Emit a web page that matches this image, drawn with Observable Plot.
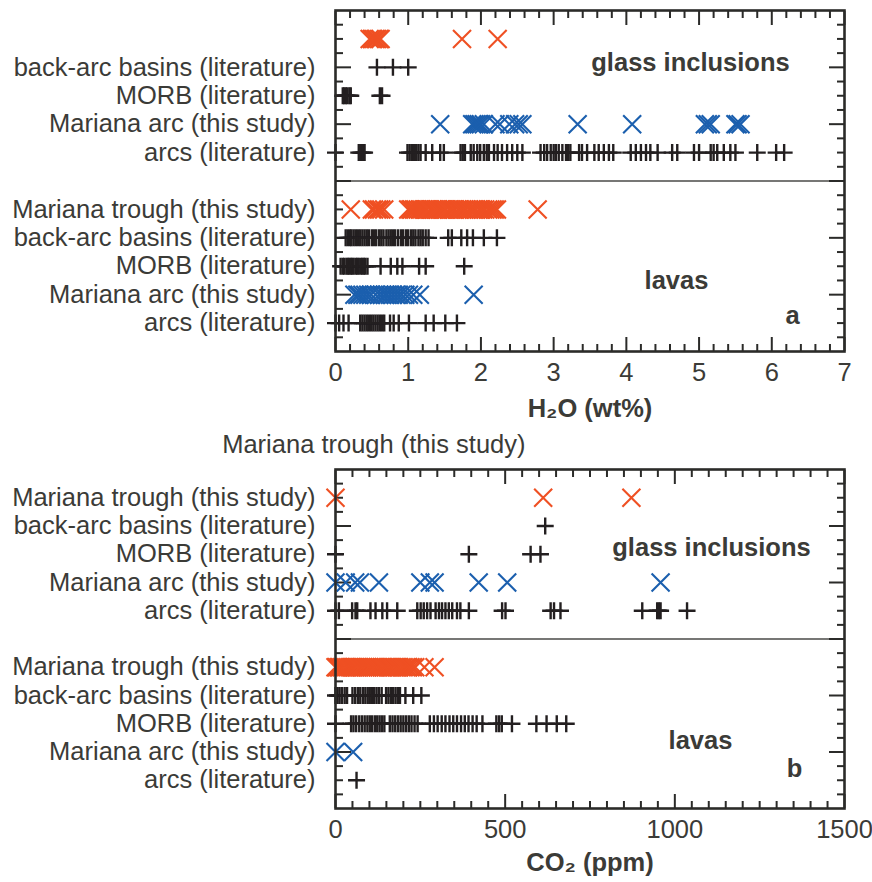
<!DOCTYPE html>
<html><head><meta charset="utf-8">
<script src="https://cdn.jsdelivr.net/npm/d3@7"></script>
<script src="https://cdn.jsdelivr.net/npm/@observablehq/plot@0.6"></script>
<style>
body{margin:0;background:#fff;}
#chart{width:872px;}
#chart svg{display:block;}
</style></head><body><div id="chart"></div>
<script>
// ---------- categories & tick labels ----------
const categories = ["Mariana trough (this study)", "back-arc basins (literature)", "MORB (literature)", "Mariana arc (this study)", "arcs (literature)"];
const groups = ["glass inclusions", "lavas"];
// in panel a the trough glass-inclusion row carries no label (it floats above panel b)
const rowLabelsA = ["", "back-arc basins (literature)", "MORB (literature)", "Mariana arc (this study)", "arcs (literature)",
  "Mariana trough (this study)", "back-arc basins (literature)", "MORB (literature)", "Mariana arc (this study)", "arcs (literature)"];
const rowLabelsB = [...categories, ...categories];
const floatingLabel = "Mariana trough (this study)";
const h2oTicks = [0, 1, 2, 3, 4, 5, 6, 7];
const co2Ticks = [0, 500, 1000, 1500];

// ---------- panel a: H2O (wt%) ----------
const h2oGlassTrough = [0.47, 0.5, 0.52, 0.55, 0.57, 0.6, 0.62, 1.74, 2.23];
const h2oGlassBackArc = [0.57, 0.79, 1.0];
const h2oGlassMorb = [0.1, 0.12, 0.14, 0.16, 0.19, 0.21, 0.61, 0.64];
const h2oGlassArc = [1.44, 1.88, 1.91, 1.94, 1.97, 2.0, 2.04, 2.2, 2.26, 2.39, 2.47, 2.52, 2.57, 3.33, 4.08, 5.08, 5.12, 5.16, 5.5, 5.53, 5.57];
const h2oGlassArcsLit = [0, 0.32, 0.35, 0.38, 0.4, 0.99, 1.02, 1.05, 1.08, 1.11, 1.14, 1.17, 1.24, 1.33, 1.44, 1.49, 1.72, 1.75, 1.78,
  1.86, 1.9, 1.95, 1.99, 2.04, 2.08, 2.11, 2.18, 2.23, 2.29, 2.36, 2.43, 2.5, 2.57, 2.82, 2.87, 2.91, 2.96, 3.0, 3.03, 3.07, 3.12,
  3.17, 3.2, 3.23, 3.35, 3.39, 3.46, 3.56, 3.62, 3.69, 3.76, 3.82, 4.06, 4.13, 4.2, 4.27, 4.33, 4.43, 4.63, 4.7, 4.93, 5.0, 5.16,
  5.2, 5.25, 5.34, 5.43, 5.5, 5.8, 6.06, 6.17];

const h2oLavaTrough = [0.21, 0.5, 0.53, 0.57, 0.6, 0.63, 0.67, 1.0, 1.03, 1.05, 1.08, 1.1, 1.13, 1.16, 1.18, 1.21, 1.24, 1.26, 1.3,
  1.33, 1.35, 1.38, 1.41, 1.44, 1.47, 1.5, 1.52, 1.56, 1.59, 1.62, 1.64, 1.68, 1.71, 1.74, 1.77, 1.8, 1.84, 1.87, 1.9, 1.93,
  1.97, 2.0, 2.03, 2.06, 2.1, 2.13, 2.16, 2.19, 2.22, 2.78];
const h2oLavaBackArc = [0.14, 0.17, 0.2, 0.22, 0.25, 0.28, 0.31, 0.34, 0.37, 0.4, 0.43, 0.46, 0.5, 0.53, 0.56, 0.6, 0.63, 0.66,
  0.7, 0.73, 0.76, 0.79, 0.82, 0.86, 0.9, 0.93, 0.97, 1.0, 1.04, 1.07, 1.1, 1.14, 1.17, 1.2, 1.24, 1.28, 1.55, 1.6, 1.73, 1.81,
  1.89, 2.04, 2.22];
const h2oLavaMorb = [0.07, 0.1, 0.12, 0.15, 0.17, 0.19, 0.21, 0.23, 0.25, 0.28, 0.3, 0.32, 0.35, 0.37, 0.39, 0.41, 0.44, 0.62,
  0.76, 0.85, 0.92, 1.15, 1.24, 1.77];
const h2oLavaArc = [0.26, 0.3, 0.33, 0.37, 0.41, 0.45, 0.49, 0.55, 0.6, 0.64, 0.68, 0.71, 0.75, 0.79, 0.83, 0.87, 0.91, 0.96,
  1.01, 1.07, 1.16, 1.9];
const h2oLavaArcsLit = [0, 0.05, 0.11, 0.18, 0.34, 0.37, 0.4, 0.43, 0.46, 0.49, 0.52, 0.55, 0.58, 0.61, 0.64, 0.67, 0.75, 0.8,
  0.87, 1.01, 1.24, 1.35, 1.51, 1.67];

// ---------- panel b: CO2 (ppm) ----------
const co2GlassTrough = [0, 612, 872];
const co2GlassBackArc = [618];
const co2GlassMorb = [0, 393, 575, 604];
const co2GlassArc = [0, 30, 58, 72, 128, 250, 278, 292, 422, 506, 958];
const co2GlassArcsLit = [0, 10, 49, 59, 64, 103, 118, 138, 152, 182, 241, 251, 260, 270, 280, 295, 305, 314, 324, 334, 344, 358,
  368, 393, 491, 501, 634, 644, 663, 904, 948, 953, 958, 1036];

const co2LavaTrough = [0, 4, 9, 13, 18, 24, 29, 35, 41, 46, 52, 57, 63, 70, 76, 81, 88, 94, 99, 106, 112, 117, 124, 131, 137, 142,
  149, 156, 162, 168, 175, 182, 188, 195, 201, 208, 214, 221, 228, 235, 262, 292];
const co2LavaBackArc = [0, 6, 12, 19, 27, 34, 50, 58, 66, 73, 81, 88, 95, 101, 108, 114, 121, 128, 136, 149, 156, 163, 170, 177,
  184, 190, 206, 229, 253];
const co2LavaMorb = [0, 46, 53, 61, 70, 78, 86, 94, 101, 108, 116, 123, 130, 137, 144, 160, 168, 176, 184, 192, 200, 208, 216,
  224, 233, 242, 278, 290, 301, 313, 324, 336, 347, 358, 370, 381, 392, 404, 416, 433, 474, 482, 490, 520, 592, 622, 652, 680];
const co2LavaArc = [0, 52];
const co2LavaArcsLit = [62];

// ---------- styling ----------
const textColor = "#3b3b37";
const frameColor = "#2b2b29";
const red = "#ef5023", blue = "#1b5fae", black = "#231f20";
const FONT = "'Liberation Sans', Arial, Helvetica, sans-serif";

const plusSym = {draw(ctx) { const h = 8.5; ctx.moveTo(-h, 0); ctx.lineTo(h, 0); ctx.moveTo(0, -h); ctx.lineTo(0, h); }};
const timesSym = {draw(ctx) { const h = 9; ctx.moveTo(-h, -h); ctx.lineTo(h, h); ctx.moveTo(-h, h); ctx.lineTo(h, -h); }};

function buildRows(glass, lavas) {
  const rows = [];
  [glass, lavas].forEach((series, g) => {
    series.forEach((values, c) => {
      values.forEach(v => rows.push({group: groups[g], cat: categories[c], value: v, pos: g * 6 + c + 1}));
    });
  });
  return rows;
}

function panel({rows, xDomain, xTicks, xMinorStep, rowLabels, xTitle, titleDy, height, marginTop, marginBottom, notes}) {
  const rowPos = [1, 2, 3, 4, 5, 7, 8, 9, 10, 11];
  const yMinor = d3.range(0.5, 12, 0.5).filter(p => p % 2 !== 0);
  const yMajor = [2, 4, 6, 8, 10];
  const xMinor = d3.range(xDomain[0], xDomain[1] + 1e-9, xMinorStep).filter(v => !xTicks.some(t => Math.abs(t - v) < 1e-9));
  const lit = rows.filter(d => d.cat.includes("literature"));
  const trough = rows.filter(d => d.cat === categories[0]);
  const arc = rows.filter(d => d.cat === categories[3]);
  const tickStyle = {stroke: frameColor, strokeWidth: 2, tickFormat: () => "", label: null};
  return Plot.plot({
    width: 872, height, marginLeft: 335, marginRight: 28, marginTop, marginBottom,
    style: {fontFamily: FONT, background: "white", color: textColor, overflow: "visible"},
    x: {domain: xDomain, label: null},
    y: {domain: [0, 12], reverse: true, label: null},
    marks: [
      Plot.ruleY([6], {stroke: "#4a4a47", strokeWidth: 1.6}),
      // inward ticks
      Plot.axisX({anchor: "bottom", ticks: xTicks, tickSize: -14, ...tickStyle}),
      Plot.axisX({anchor: "bottom", ticks: xMinor, tickSize: -7, ...tickStyle}),
      Plot.axisX({anchor: "top", ticks: xTicks, tickSize: -14, ...tickStyle}),
      Plot.axisX({anchor: "top", ticks: xMinor, tickSize: -7, ...tickStyle}),
      Plot.axisY({anchor: "left", ticks: yMajor, tickSize: -16, ...tickStyle}),
      Plot.axisY({anchor: "left", ticks: yMinor, tickSize: -8, ...tickStyle}),
      Plot.axisY({anchor: "right", ticks: yMajor, tickSize: -16, ...tickStyle}),
      Plot.axisY({anchor: "right", ticks: yMinor, tickSize: -8, ...tickStyle}),
      // labels
      Plot.axisX({anchor: "bottom", ticks: xTicks, tickSize: 0, tickPadding: 11, fontSize: 25.5, fill: textColor, label: null,
        tickFormat: d => String(d)}),
      Plot.axisY({anchor: "left", ticks: rowPos, tickSize: 0, tickPadding: 20, fontSize: 25.5, fill: textColor, label: null,
        tickFormat: p => rowLabels[rowPos.indexOf(p)]}),
      Plot.text([xTitle], {frameAnchor: "bottom", lineAnchor: "middle", dy: titleDy, fontSize: 25.5, fontWeight: "bold", fill: textColor}),
      ...notes.map(n => Plot.text([n.text], {frameAnchor: n.anchor, lineAnchor: "middle", dx: n.dx, dy: n.dy,
        textAnchor: n.textAnchor || "middle", fontSize: 25.5, fontWeight: n.bold ? "bold" : "normal", fill: textColor})),
      // data
      Plot.dot(lit, {x: "value", y: "pos", symbol: plusSym, stroke: black, fill: "none", strokeWidth: 2.4}),
      Plot.dot(trough, {x: "value", y: "pos", symbol: timesSym, stroke: red, fill: "none", strokeWidth: 2.1}),
      Plot.dot(arc, {x: "value", y: "pos", symbol: timesSym, stroke: blue, fill: "none", strokeWidth: 2.1}),
      Plot.frame({stroke: frameColor, strokeWidth: 2.6})
    ]
  });
}

const rowsA = buildRows(
  [h2oGlassTrough, h2oGlassBackArc, h2oGlassMorb, h2oGlassArc, h2oGlassArcsLit],
  [h2oLavaTrough, h2oLavaBackArc, h2oLavaMorb, h2oLavaArc, h2oLavaArcsLit]);
const rowsB = buildRows(
  [co2GlassTrough, co2GlassBackArc, co2GlassMorb, co2GlassArc, co2GlassArcsLit],
  [co2LavaTrough, co2LavaBackArc, co2LavaMorb, co2LavaArc, co2LavaArcsLit]);

const chartA = panel({
  rows: rowsA, xDomain: [0, 7], xTicks: h2oTicks, xMinorStep: 0.2, rowLabels: rowLabelsA,
  xTitle: "H\u2082O (wt%)", titleDy: 57, height: 426, marginTop: 10, marginBottom: 75,
  notes: [
    {text: groups[0], anchor: "top-right", dx: -154, dy: 52, bold: true},
    {text: groups[1], anchor: "bottom-right", dx: -168, dy: -71, bold: true},
    {text: "a", anchor: "bottom-right", dx: -52, dy: -36, bold: true}
  ]
});
const chartB = panel({
  rows: rowsB, xDomain: [0, 1500], xTicks: co2Ticks, xMinorStep: 50, rowLabels: rowLabelsB,
  xTitle: "CO\u2082 (ppm)", titleDy: 54, height: 456, marginTop: 43, marginBottom: 74,
  notes: [
    {text: groups[0], anchor: "top-right", dx: -133, dy: 78, bold: true},
    {text: groups[1], anchor: "bottom-right", dx: -144, dy: -68, bold: true},
    {text: "b", anchor: "bottom-right", dx: -50, dy: -40, bold: true},
    {text: floatingLabel, anchor: "top-left", dx: 190, dy: -25, textAnchor: "end", bold: false}
  ]
});
document.getElementById("chart").append(chartA, chartB);
</script>
</body></html>
